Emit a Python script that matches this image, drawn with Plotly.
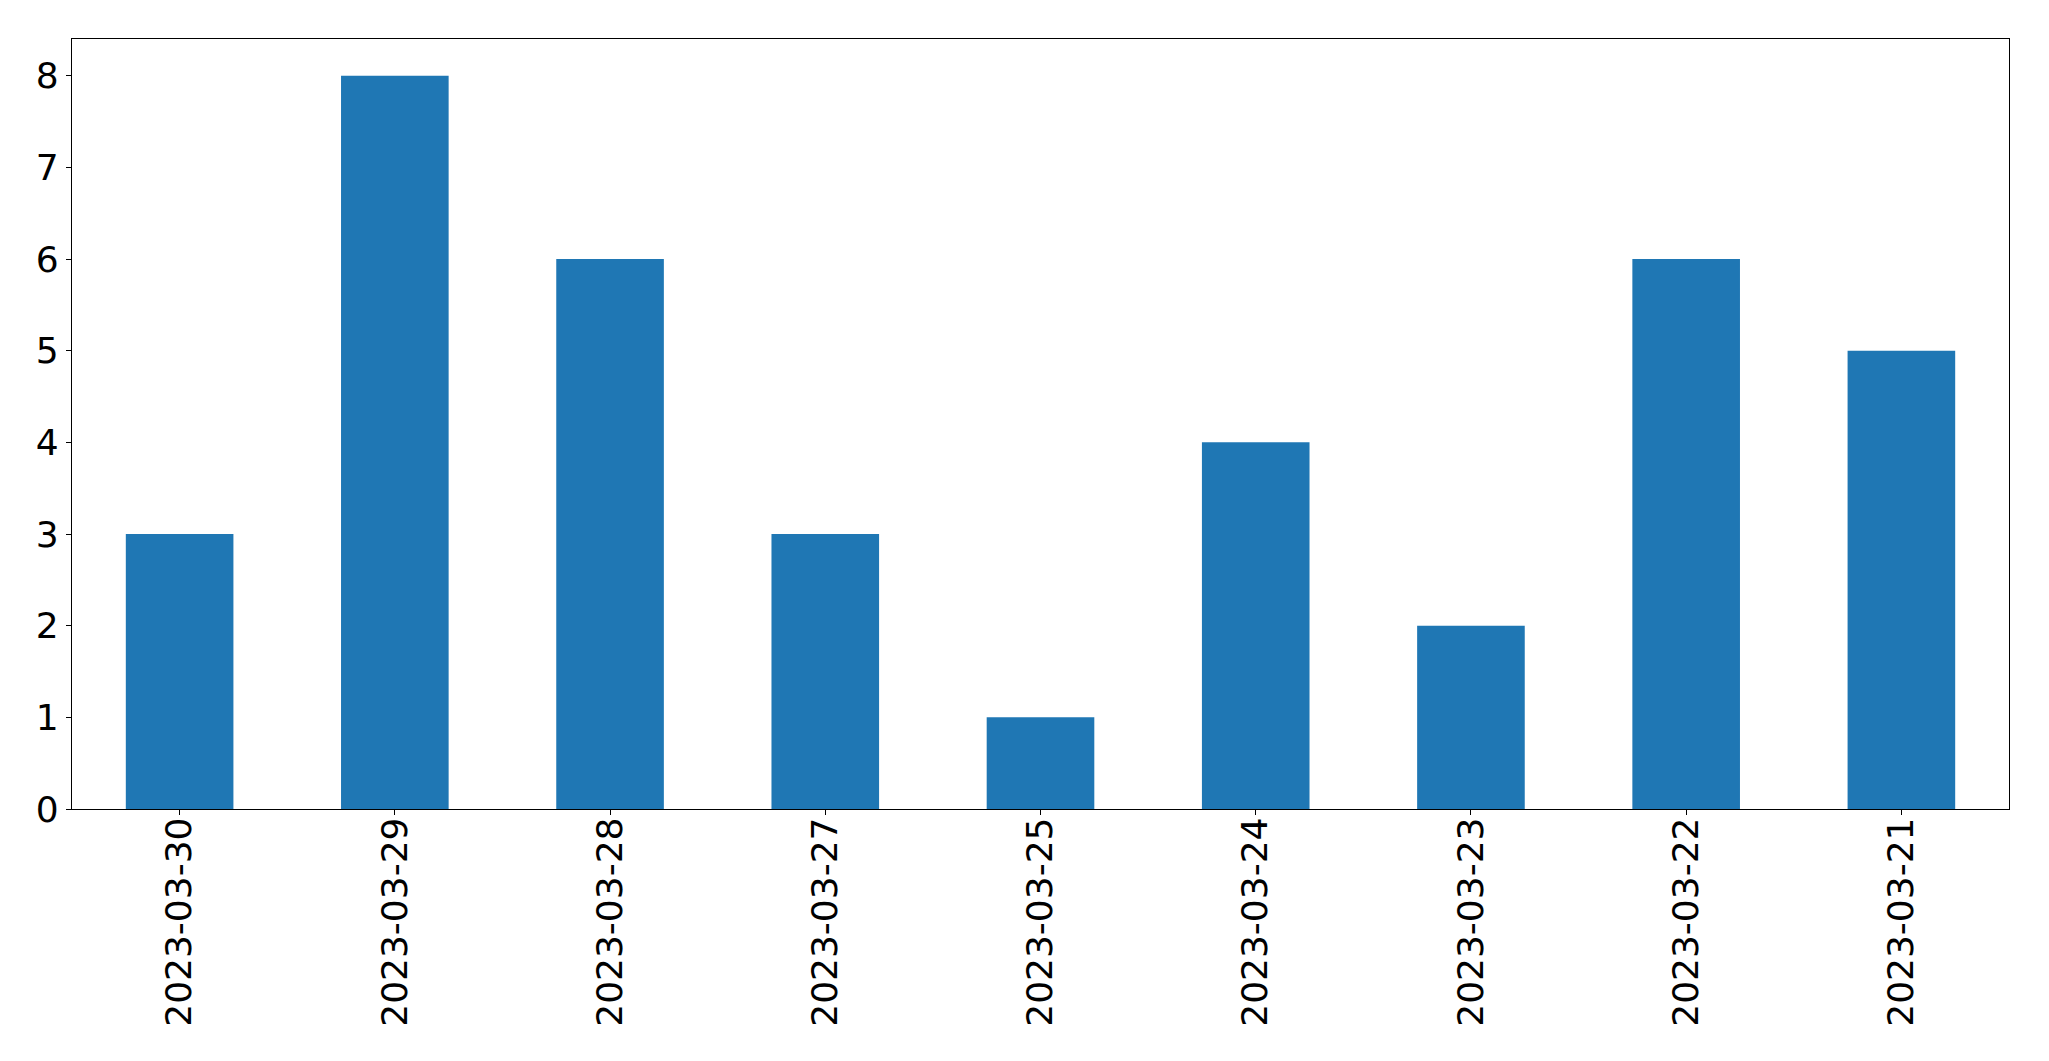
import plotly.graph_objects as go

dates = ["2023-03-30", "2023-03-29", "2023-03-28", "2023-03-27", "2023-03-25",
         "2023-03-24", "2023-03-23", "2023-03-22", "2023-03-21"]
counts = [3, 8, 6, 3, 1, 4, 2, 6, 5]

fig = go.Figure(go.Bar(x=dates, y=counts, marker_color="#1f77b4", marker_line_width=0))

font = dict(family="DejaVu Sans", size=36, color="black")
# page body has an 8px default margin; compensate so the plot area sits at x 72-2009, y 39-809
fig.update_layout(
    width=2041, height=1053,
    margin=dict(l=64, r=40, t=31, b=252),
    plot_bgcolor="white", paper_bgcolor="white",
    bargap=0.5, showlegend=False, font=font,
)
fig.update_xaxes(type="category", range=[-0.5, 8.5], tickangle=-90,
                 showline=True, linecolor="black", linewidth=1.3, mirror=True,
                 ticks="outside", ticklen=5, tickcolor="black", showgrid=False,
                 tickfont=font, ticklabelstandoff=-12)
fig.update_yaxes(range=[0, 8.4], dtick=1, tick0=0,
                 showline=True, linecolor="black", linewidth=1.3, mirror=True,
                 ticks="outside", ticklen=5, tickcolor="black", showgrid=False,
                 zeroline=False, tickfont=font)

fig.write_html("out.html")
